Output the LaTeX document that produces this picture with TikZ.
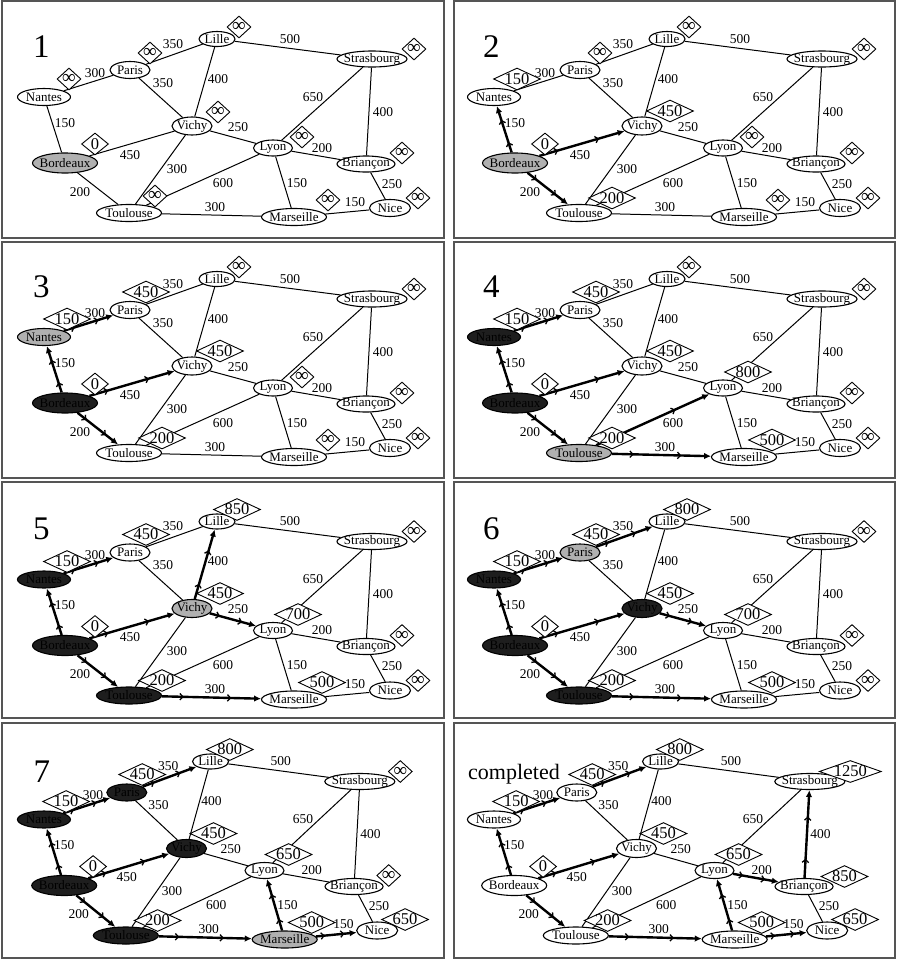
\documentclass[tikz,border=0pt]{standalone}
\usepackage{fontspec}
\setmainfont{Liberation Serif}
\usetikzlibrary{shapes.geometric,arrows.meta,decorations.markings}
\pgfdeclarelayer{bg}
\pgfdeclarelayer{edges}
\pgfsetlayers{bg,edges,main}
\definecolor{dgdark}{HTML}{1E1E1E}
\definecolor{dggray}{HTML}{B0B0B0}
\definecolor{dgframe}{HTML}{555555}
\tikzset{
  city/.style={ellipse, draw, line width=1.1pt, fill=white, inner xsep=-10pt, inner ysep=-4pt, font=\fontsize{13}{13}\selectfont},
  G/.style={fill=dggray},
  K/.style={fill=dgdark},
  thinedge/.style={line width=1pt},
  tree/.style={line width=2.4pt, -{Latex[length=7pt,width=6.5pt]},
    postaction={decorate},
    decoration={markings,
      mark=at position 0.22 with {\arrow{Straight Barb[length=3pt,width=6.5pt,line width=1.3pt]}},
      mark=at position 0.7 with {\arrow{Straight Barb[length=3pt,width=6.5pt,line width=1.3pt]}}}},
  wl/.style={inner sep=0pt, font=\fontsize{13.5}{13.5}\selectfont},
  dia/.style={diamond, draw, line width=0.9pt, fill=white, inner xsep=-3pt, inner ysep=-3pt, font=\fontsize{16.5}{16.5}\selectfont},
  diasm/.style={minimum width=24pt, minimum height=22pt},
  diamd/.style={aspect=2, minimum width=47pt, minimum height=22pt},
  diabg/.style={aspect=3, minimum width=62pt, minimum height=22pt},
  ttlstyle/.style={anchor=base west, inner sep=0pt, font=\fontsize{33}{33}\selectfont},
  frame/.style={draw=dgframe, line width=1.3pt},
  vNantes/.store in=\dgvNantes, vParis/.store in=\dgvParis, vLille/.store in=\dgvLille,
  vStrasbourg/.store in=\dgvStrasbourg, vVichy/.store in=\dgvVichy, vLyon/.store in=\dgvLyon,
  vBordeaux/.store in=\dgvBordeaux, vBriancon/.store in=\dgvBriancon, vToulouse/.store in=\dgvToulouse,
  vMarseille/.store in=\dgvMarseille, vNice/.store in=\dgvNice,
  ttlx/.store in=\dgttlx, ttly/.store in=\dgttly
}
\def\dgI{i}
\newcommand{\dgval}[4]{%
  \edef\dgtmp{#4}%
  \ifx\dgtmp\dgI
    \node[dia, diasm, font=\fontsize{19}{19}\selectfont] (\dgp#1v) at (#2) {∞};%
  \else\ifnum\dgtmp<10
    \node[dia, diasm, minimum width=27pt] (\dgp#1v) at (#2) {\dgtmp};%
  \else\ifnum\dgtmp<1000
    \node[dia, diamd] (\dgp#1v) at (#3) {\dgtmp};%
  \else
    \node[dia, diabg] (\dgp#1v) at (#3) {\dgtmp};%
  \fi\fi\fi}
\newcommand{\dgpanel}[6]{%
\begin{scope}[shift={(#2,#3)}, xscale=#4]
\def\dgp{#1}%
\tikzset{vNantes=i, vParis=i, vLille=i, vStrasbourg=i, vVichy=i, vLyon=i, vBordeaux=0,
  vBriancon=i, vToulouse=i, vMarseille=i, vNice=i,
  cNantes/.style={}, cParis/.style={}, cLille/.style={}, cStrasbourg/.style={}, cVichy/.style={},
  cLyon/.style={}, cBordeaux/.style={}, cBriancon/.style={}, cToulouse/.style={},
  cMarseille/.style={}, cNice/.style={},
  eNaPa/.style={thinedge}, ePaLi/.style={thinedge}, eLiSt/.style={thinedge}, ePaVi/.style={thinedge},
  eViLi/.style={thinedge}, eStLy/.style={thinedge}, eBrSt/.style={thinedge}, eViLy/.style={thinedge},
  eLyBr/.style={thinedge}, eBoNa/.style={thinedge}, eBoVi/.style={thinedge}, eViTo/.style={thinedge},
  eToLy/.style={thinedge}, eMaLy/.style={thinedge}, eBrNi/.style={thinedge}, eBoTo/.style={thinedge},
  eToMa/.style={thinedge}, eMaNi/.style={thinedge},
  ttlx=33, ttly=57, #6}%
\node[ttlstyle] (\dgp title) at (\dgttlx,\dgttly) {#5};
% cities
\node[city, cNantes, minimum width=53pt, minimum height=17pt] (\dgp Nantes) at (44,97) {Nantes};
\node[city, cParis, minimum width=40pt, minimum height=17pt] (\dgp Paris) at (130,70) {Paris};
\node[city, cLille, minimum width=36pt, minimum height=15pt] (\dgp Lille) at (217,39) {Lille};
\node[city, cStrasbourg, minimum width=70pt, minimum height=16pt] (\dgp Strasbourg) at (372,59) {Strasbourg};
\node[city, cVichy, minimum width=40pt, minimum height=18pt] (\dgp Vichy) at (192,126) {Vichy};
\node[city, cLyon, minimum width=39pt, minimum height=16pt] (\dgp Lyon) at (273,148) {Lyon};
\node[city, cBordeaux, minimum width=65pt, minimum height=20pt] (\dgp Bordeaux) at (65,163) {Bordeaux};
\node[city, cBriancon, minimum width=58pt, minimum height=16pt] (\dgp Briancon) at (366,164) {Briançon};
\node[city, cToulouse, minimum width=65pt, minimum height=17pt] (\dgp Toulouse) at (129,213) {Toulouse};
\node[city, cMarseille, minimum width=65pt, minimum height=17pt] (\dgp Marseille) at (294,217) {Marseille};
\node[city, cNice, minimum width=41pt, minimum height=17pt] (\dgp Nice) at (390,208) {Nice};
% weights
\node[wl] (\dgp wA) at (95,73) {300};
\node[wl] (\dgp wB) at (173,44) {350};
\node[wl] (\dgp wC) at (290,39) {500};
\node[wl] (\dgp wD) at (163,83) {350};
\node[wl] (\dgp wE) at (218,79) {400};
\node[wl] (\dgp wF) at (313,97) {650};
\node[wl] (\dgp wG) at (383,112) {400};
\node[wl] (\dgp wH) at (238,127) {250};
\node[wl] (\dgp wI) at (322,148) {200};
\node[wl] (\dgp wJ) at (65,123) {150};
\node[wl] (\dgp wK) at (130,155) {450};
\node[wl] (\dgp wL) at (177,169) {300};
\node[wl] (\dgp wM) at (223,183) {600};
\node[wl] (\dgp wN) at (297,183) {150};
\node[wl] (\dgp wO) at (392,184) {250};
\node[wl] (\dgp wP) at (80,192) {200};
\node[wl] (\dgp wQ) at (215,207) {300};
\node[wl] (\dgp wR) at (355,202) {150};
% values
\dgval{Nantes}{69,79}{67,79}{\dgvNantes}
\dgval{Paris}{150,53}{146,52}{\dgvParis}
\dgval{Lille}{239,27}{237,27}{\dgvLille}
\dgval{Strasbourg}{414,49}{414,49}{\dgvStrasbourg}
\dgval{Vichy}{218,112}{220,111}{\dgvVichy}
\dgval{Lyon}{302,137}{298,132}{\dgvLyon}
\dgval{Bordeaux}{95,144}{95,144}{\dgvBordeaux}
\dgval{Briancon}{402,153}{408,154}{\dgvBriancon}
\dgval{Toulouse}{155,196}{162,198}{\dgvToulouse}
\dgval{Marseille}{328,200}{322,200}{\dgvMarseille}
\dgval{Nice}{418,198}{419,197}{\dgvNice}
% edges
\begin{pgfonlayer}{edges}
\draw[eNaPa] (\dgp Nantes) -- (\dgp Paris);
\draw[ePaLi] (\dgp Paris) -- (\dgp Lille);
\draw[eLiSt] (\dgp Lille) -- (\dgp Strasbourg);
\draw[ePaVi] (\dgp Paris) -- (\dgp Vichy);
\draw[eViLi] (\dgp Vichy) -- (\dgp Lille);
\draw[eStLy] (\dgp Strasbourg) -- (\dgp Lyon);
\draw[eBrSt] (\dgp Briancon) -- (\dgp Strasbourg);
\draw[eViLy] (\dgp Vichy) -- (\dgp Lyon);
\draw[eLyBr] (\dgp Lyon) -- (\dgp Briancon);
\draw[eBoNa] (\dgp Bordeaux) -- (\dgp Nantes);
\draw[eBoVi] (\dgp Bordeaux) -- (\dgp Vichy);
\draw[eViTo] (\dgp Vichy) -- (\dgp Toulouse);
\draw[eToLy] (\dgp Toulouse) -- (\dgp Lyon);
\draw[eMaLy] (\dgp Marseille) -- (\dgp Lyon);
\draw[eBrNi] (\dgp Briancon) -- (\dgp Nice);
\draw[eBoTo] (\dgp Bordeaux) -- (\dgp Toulouse);
\draw[eToMa] (\dgp Toulouse) -- (\dgp Marseille);
\draw[eMaNi] (\dgp Marseille) -- (\dgp Nice);
\end{pgfonlayer}
\end{scope}}

\begin{document}
\begin{tikzpicture}[x=1pt, y=-1pt]
\useasboundingbox (0,0) rectangle (898,959);
\begin{pgfonlayer}{bg}
\fill[white] (0,0) rectangle (898,959);
\end{pgfonlayer}
% frames
\draw[frame] (2,1) rectangle (444,238);
\draw[frame] (454,1) rectangle (895,238);
\draw[frame] (2,242) rectangle (444,478);
\draw[frame] (454,242) rectangle (895,478);
\draw[frame] (2,482) rectangle (444,718);
\draw[frame] (454,482) rectangle (895,718);
\draw[frame] (2,723) rectangle (444,958);
\draw[frame] (454,723) rectangle (895,958);

\dgpanel{pA}{0}{0}{1}{1}{cBordeaux/.style={G}}
\dgpanel{pB}{450}{0}{1}{2}{cBordeaux/.style={G}, vNantes=150, vVichy=450, vToulouse=200,
  eBoNa/.style={tree}, eBoVi/.style={tree}, eBoTo/.style={tree}}
\dgpanel{pC}{0}{240}{1}{3}{cBordeaux/.style={K}, cNantes/.style={G}, vNantes=150, vVichy=450, vToulouse=200, vParis=450,
  eBoNa/.style={tree}, eBoVi/.style={tree}, eBoTo/.style={tree}, eNaPa/.style={tree}}
\dgpanel{pD}{450}{240}{1}{4}{cBordeaux/.style={K}, cNantes/.style={K}, cToulouse/.style={G},
  vNantes=150, vVichy=450, vToulouse=200, vParis=450, vLyon=800, vMarseille=500,
  eBoNa/.style={tree}, eBoVi/.style={tree}, eBoTo/.style={tree}, eNaPa/.style={tree},
  eToLy/.style={tree}, eToMa/.style={tree}}
\dgpanel{pE}{0}{482.5}{1}{5}{cBordeaux/.style={K}, cNantes/.style={K}, cToulouse/.style={K}, cVichy/.style={G},
  vNantes=150, vVichy=450, vToulouse=200, vParis=450, vLyon=700, vMarseille=500, vLille=850,
  eBoNa/.style={tree}, eBoVi/.style={tree}, eBoTo/.style={tree}, eNaPa/.style={tree},
  eToMa/.style={tree}, eViLi/.style={tree}, eViLy/.style={tree}}
\dgpanel{pF}{450}{482.5}{1}{6}{cBordeaux/.style={K}, cNantes/.style={K}, cToulouse/.style={K}, cVichy/.style={K}, cParis/.style={G},
  vNantes=150, vVichy=450, vToulouse=200, vParis=450, vLyon=700, vMarseille=500, vLille=800,
  eBoNa/.style={tree}, eBoVi/.style={tree}, eBoTo/.style={tree}, eNaPa/.style={tree},
  eToMa/.style={tree}, ePaLi/.style={tree}, eViLy/.style={tree}}
\dgpanel{pG}{1.6}{722.5}{0.963}{7}{cBordeaux/.style={K}, cNantes/.style={K}, cToulouse/.style={K}, cVichy/.style={K}, cParis/.style={K}, cMarseille/.style={G},
  vNantes=150, vVichy=450, vToulouse=200, vParis=450, vLyon=650, vMarseille=500, vLille=800, vNice=650,
  eBoNa/.style={tree}, eBoVi/.style={tree}, eBoTo/.style={tree}, eNaPa/.style={tree},
  eToMa/.style={tree}, ePaLi/.style={tree}, eMaLy/.style={tree}, eMaNi/.style={tree}, ttly=60}
\dgpanel{pH}{451.6}{722.5}{0.963}{{\fontsize{22}{22}\selectfont completed}}{vNantes=150, vVichy=450, vToulouse=200, vParis=450, vLyon=650, vMarseille=500, vLille=800, vNice=650,
  vStrasbourg=1250, vBriancon=850,
  eBoNa/.style={tree}, eBoVi/.style={tree}, eBoTo/.style={tree}, eNaPa/.style={tree},
  eToMa/.style={tree}, ePaLi/.style={tree}, eMaLy/.style={tree}, eMaNi/.style={tree},
  eLyBr/.style={tree}, eBrSt/.style={tree}, ttlx=17, ttly=57}
\end{tikzpicture}
\end{document}
